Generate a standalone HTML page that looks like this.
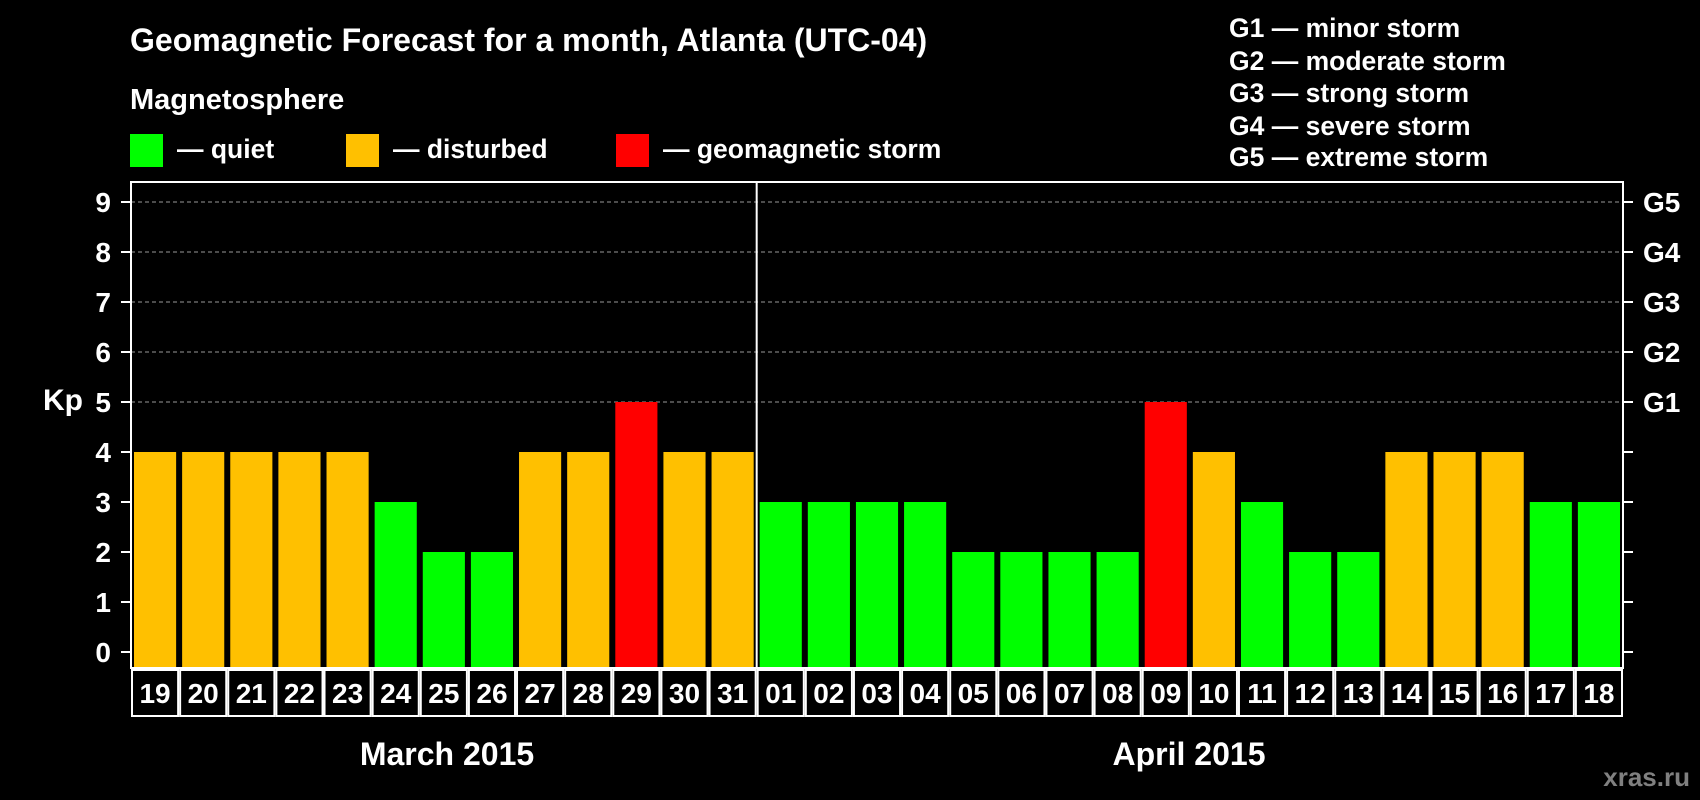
<!DOCTYPE html>
<html><head><meta charset="utf-8"><style>
html,body{margin:0;padding:0;background:#000;}
svg{display:block;font-family:"Liberation Sans",sans-serif;font-weight:bold;}
</style></head><body>
<svg id="c" width="1700" height="800" viewBox="0 0 1700 800">
<text x="130" y="51" fill="#fff" font-size="32">Geomagnetic Forecast for a month, Atlanta (UTC-04)</text>
<text x="130" y="109" fill="#fff" font-size="29">Magnetosphere</text>
<g><rect x="130" y="134" width="33" height="33" fill="#00ff00"/><text x="177" y="158" fill="#fff" font-size="26.5">— quiet</text></g>
<g><rect x="346" y="134" width="33" height="33" fill="#ffc000"/><text x="393" y="158" fill="#fff" font-size="26.5">— disturbed</text></g>
<g><rect x="616" y="134" width="33" height="33" fill="#ff0000"/><text x="663" y="158" fill="#fff" font-size="26.5">— geomagnetic storm</text></g>
<g fill="#fff" font-size="26.5">
<text x="1229" y="37">G1 — minor storm</text>
<text x="1229" y="70">G2 — moderate storm</text>
<text x="1229" y="102">G3 — strong storm</text>
<text x="1229" y="135">G4 — severe storm</text>
<text x="1229" y="166">G5 — extreme storm</text>
</g>
<text x="43" y="410" fill="#fff" font-size="30">Kp</text>
<g id="plot"></g>
<text x="447" y="765" fill="#fff" font-size="32" text-anchor="middle">March 2015</text>
<text x="1189" y="765" fill="#fff" font-size="32" text-anchor="middle">April 2015</text>
<text x="1690" y="786" fill="#808080" font-size="26" text-anchor="end">xras.ru</text>
</svg>
<script>
const days = ["19","20","21","22","23","24","25","26","27","28","29","30","31","01","02","03","04","05","06","07","08","09","10","11","12","13","14","15","16","17","18"];
const kpValues = [4,4,4,4,4,3,2,2,4,4,5,4,4,3,3,3,3,2,2,2,2,5,4,3,2,2,4,4,4,3,3];
const yTicks = [0,1,2,3,4,5,6,7,8,9];
const gLabels = ["G1","G2","G3","G4","G5"];
const marchCount = 13;

const NS="http://www.w3.org/2000/svg";
const L=131,R=1623,T=182,B=668,Y0=652,UNIT=50;
const slot=(R-L)/days.length;
const y=v=>Y0-v*UNIT;
const x=i=>L+i*slot;
const g=document.getElementById('plot');
function mk(t,a){const e=document.createElementNS(NS,t);for(const k in a)e.setAttribute(k,a[k]);g.appendChild(e);return e;}
yTicks.forEach(v=>{
  if(v>=5){const l=mk('line',{x1:L,x2:R,y1:y(v),y2:y(v),stroke:'#999','stroke-dasharray':'4,3','stroke-width':1});
  
  }
  const t1=mk('line',{x1:L-10,x2:L,y1:y(v),y2:y(v),stroke:'#fff','stroke-width':2});
  
  
  const t2=mk('line',{x1:R,x2:R+10,y1:y(v),y2:y(v),stroke:'#fff','stroke-width':2});
  
  
  const lb=mk('text',{x:L-20,y:y(v)+10,fill:'#fff','font-size':28,'text-anchor':'end'});
  lb.textContent=v;
  
  
});
gLabels.forEach((s,i)=>{
  const lb=mk('text',{x:R+20,y:y(5+i)+10,fill:'#fff','font-size':28});
  lb.textContent=s;
  
  
});
kpValues.forEach((v,i)=>{
  const col=v>=5?'#ff0000':(v>=4?'#ffc000':'#00ff00');
  const r=mk('rect',{x:x(i)+3,y:y(v),width:slot-6,height:B-y(v)-1,fill:col});
  
  
  const b=mk('rect',{x:x(i)+1,y:B+2,width:slot-2,height:46,fill:'none',stroke:'#fff','stroke-width':2});
  
  
  const t=mk('text',{x:x(i)+slot/2,y:B+35,fill:'#fff','font-size':28,'text-anchor':'middle'});
  t.textContent=days[i];
  
  
});
const fr=mk('rect',{x:L,y:T,width:R-L,height:B-T,fill:'none',stroke:'#fff','stroke-width':2});


const dv=mk('line',{x1:x(marchCount),x2:x(marchCount),y1:T,y2:B,stroke:'#fff','stroke-width':2});


</script>
</body></html>
